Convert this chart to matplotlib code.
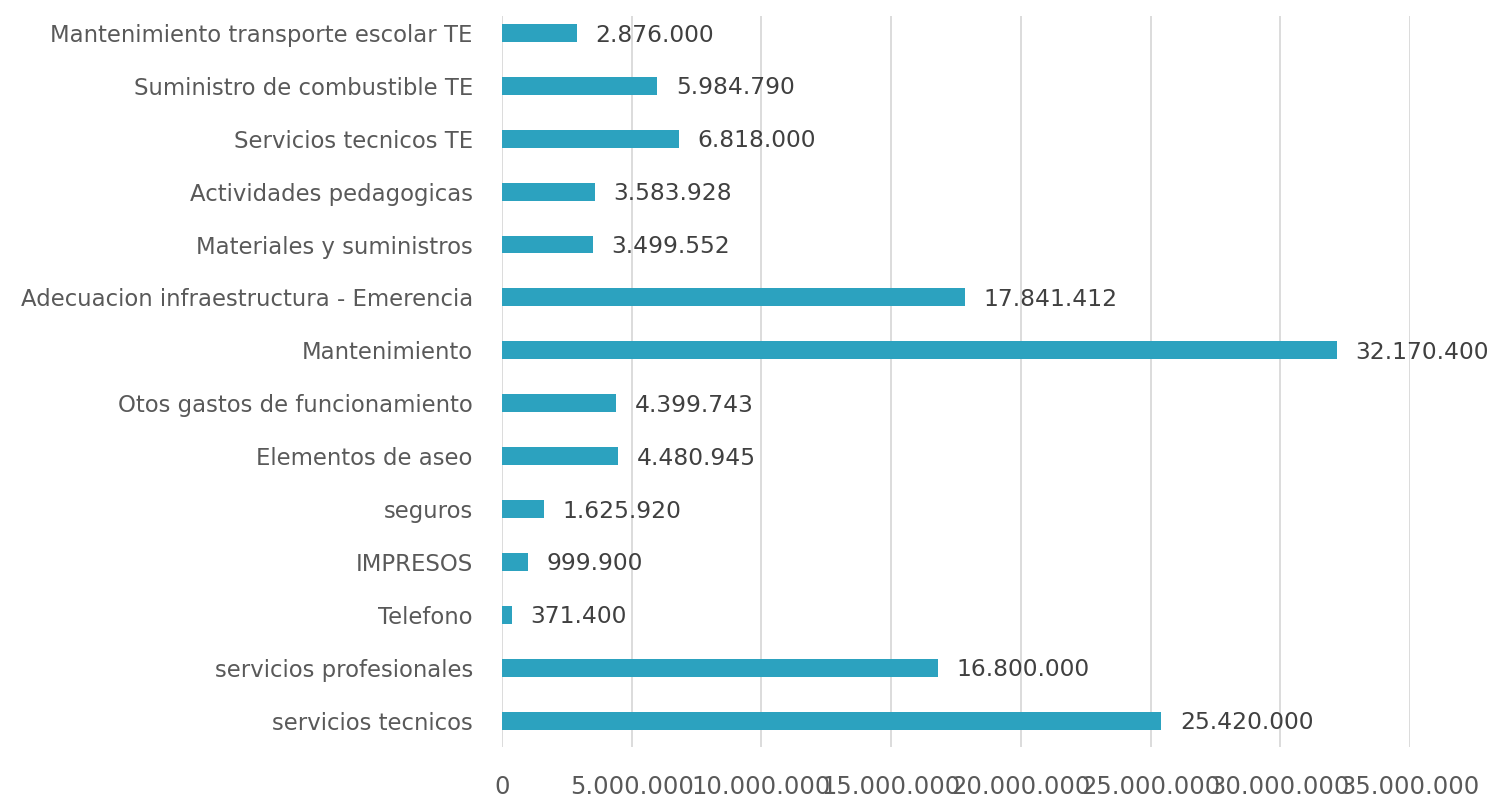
import matplotlib
matplotlib.use("Agg")
import matplotlib.pyplot as plt
from matplotlib.ticker import FuncFormatter

categories = [
    "Mantenimiento transporte escolar TE",
    "Suministro de combustible TE",
    "Servicios tecnicos TE",
    "Actividades pedagogicas",
    "Materiales y suministros",
    "Adecuacion infraestructura - Emerencia",
    "Mantenimiento",
    "Otos gastos de funcionamiento",
    "Elementos de aseo",
    "seguros",
    "IMPRESOS",
    "Telefono",
    "servicios profesionales",
    "servicios tecnicos",
]
values = [2876000, 5984790, 6818000, 3583928, 3499552, 17841412, 32170400,
          4399743, 4480945, 1625920, 999900, 371400, 16800000, 25420000]
xticks = [0, 5000000, 10000000, 15000000, 20000000, 25000000, 30000000, 35000000]


def fmt(v):
    return f"{int(v):,}".replace(",", ".")


fig = plt.figure(figsize=(15.05, 7.99), dpi=100)
ax = fig.add_axes([502 / 1505, 52 / 799, (1410 - 502) / 1505, (783 - 52) / 799])

n = len(categories)
ypos = list(range(n - 1, -1, -1))
ax.barh(ypos, values, height=0.34, color="#2CA2BF", zorder=2)
for y, v in zip(ypos, values):
    ax.text(v + 720000, y - 0.04, fmt(v), va="center", ha="left", fontsize=16.8,
            color="#404040", zorder=3)

ax.set_xlim(0, 35000000)
ax.set_ylim(-0.5, 13.32)
ax.set_xticks(xticks)
ax.xaxis.set_major_formatter(FuncFormatter(lambda v, p: fmt(v)))
ax.set_yticks(ypos)
ax.set_yticklabels(categories)
ax.tick_params(axis="y", length=0, pad=21, labelsize=16.4, labelcolor="#595959")
ax.tick_params(axis="x", length=0, pad=20, labelsize=17.5, labelcolor="#595959")
ax.grid(axis="x", color="#D9D9D9", linewidth=1.3, zorder=0)
for s in ax.spines.values():
    s.set_visible(False)

fig.savefig("out.png", dpi=100)
